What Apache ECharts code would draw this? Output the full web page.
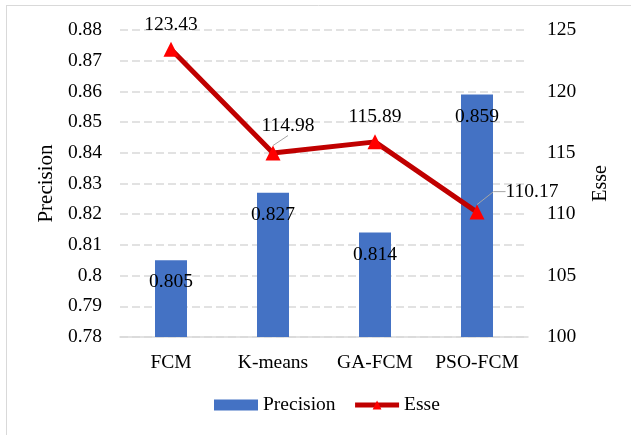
<!DOCTYPE html>
<html>
<head>
<meta charset="utf-8">
<script src="https://cdn.jsdelivr.net/npm/echarts@6/dist/echarts.min.js"></script>
<style>
  html, body { margin: 0; padding: 0; background: #fff; }
  #chart { width: 631px; height: 435px; }
</style>
</head>
<body>
<div id="chart"></div>
<script>
// Clustering methods compared on precision (bars) and Esse (line)
const categories = ['FCM', 'K-means', 'GA-FCM', 'PSO-FCM'];
const precision = [0.805, 0.827, 0.814, 0.859];
const esse = [123.43, 114.98, 115.89, 110.17];

const FONT = 'Liberation Serif';
const FS = 19.5;
const gridColor = '#D9D9D9';

// Esse labels that are nudged off their points (drawn with a leader line)
const esseLabelShift = { 1: { dx: 15, dy: -3 }, 3: { dx: 55, dy: 4 } };
const leader = { color: '#A6A6A6', width: 1 };

const esseData = esse.map((v, i) => {
  if (i === 1) return { value: v, labelLine: { show: true, lineStyle: leader } };
  if (i === 3) return { value: v, labelLine: { show: true, length2: 12, lineStyle: leader } };
  return v;
});

const chart = echarts.init(document.getElementById('chart'), null, { renderer: 'canvas' });

chart.setOption({
  backgroundColor: '#fff',
  animation: false,
  textStyle: { fontFamily: FONT, color: '#000' },
  grid: { left: 120, right: 103, top: 30, bottom: 98 },
  legend: {
    bottom: 15,
    left: 209,
    itemGap: 17,
    itemWidth: 44,
    itemHeight: 11,
    textStyle: { fontFamily: FONT, fontSize: FS, color: '#000' },
    data: [
      { name: 'Precision', icon: 'rect' },
      { name: 'Esse', lineStyle: { width: 5, color: '#C00000' } }
    ]
  },
  xAxis: {
    type: 'category',
    data: categories,
    axisLine: { lineStyle: { color: gridColor, width: 1.5 } },
    axisTick: { show: false },
    axisLabel: { fontFamily: FONT, fontSize: FS, color: '#000', margin: 16, interval: 0 }
  },
  yAxis: [
    {
      type: 'value',
      name: 'Precision',
      nameLocation: 'middle',
      nameGap: 60,
      nameTextStyle: { fontFamily: FONT, fontSize: 21, color: '#000' },
      min: 0.78,
      max: 0.88,
      interval: 0.01,
      axisLine: { show: false },
      axisTick: { show: false },
      axisLabel: {
        fontFamily: FONT, fontSize: FS, color: '#000', margin: 18,
        formatter: v => String(Math.round(v * 100) / 100)
      },
      splitLine: { lineStyle: { color: gridColor, type: [8, 4], width: 1.5 } }
    },
    {
      type: 'value',
      name: 'Esse',
      nameLocation: 'middle',
      nameGap: 63,
      nameTextStyle: { fontFamily: FONT, fontSize: 20, color: '#000' },
      min: 100,
      max: 125,
      interval: 5,
      axisLine: { show: false },
      axisTick: { show: false },
      axisLabel: { fontFamily: FONT, fontSize: FS, color: '#000', margin: 19 },
      splitLine: { show: false }
    }
  ],
  series: [
    {
      name: 'Precision',
      type: 'bar',
      yAxisIndex: 0,
      data: precision,
      barWidth: 32,
      itemStyle: { color: '#4472C4' },
      label: {
        show: true,
        position: 'insideTop',
        distance: 12,
        fontFamily: FONT,
        fontSize: FS,
        color: '#000'
      }
    },
    {
      name: 'Esse',
      type: 'line',
      yAxisIndex: 1,
      data: esseData,
      z: 5,
      lineStyle: { color: '#C00000', width: 5 },
      itemStyle: { color: '#FF0000' },
      symbol: 'triangle',
      symbolSize: 15,
      label: {
        show: true,
        position: 'top',
        distance: 7,
        fontFamily: FONT,
        fontSize: FS,
        color: '#000'
      },
      labelLine: { show: false },
      labelLayout: params => esseLabelShift[params.dataIndex] || {}
    }
  ],
  graphic: [
    { type: 'line', shape: { x1: 6, y1: 5.5, x2: 631, y2: 5.5 }, style: { stroke: gridColor, lineWidth: 1 } },
    { type: 'line', shape: { x1: 6.5, y1: 5, x2: 6.5, y2: 435 }, style: { stroke: gridColor, lineWidth: 1 } }
  ]
});
</script>
</body>
</html>
